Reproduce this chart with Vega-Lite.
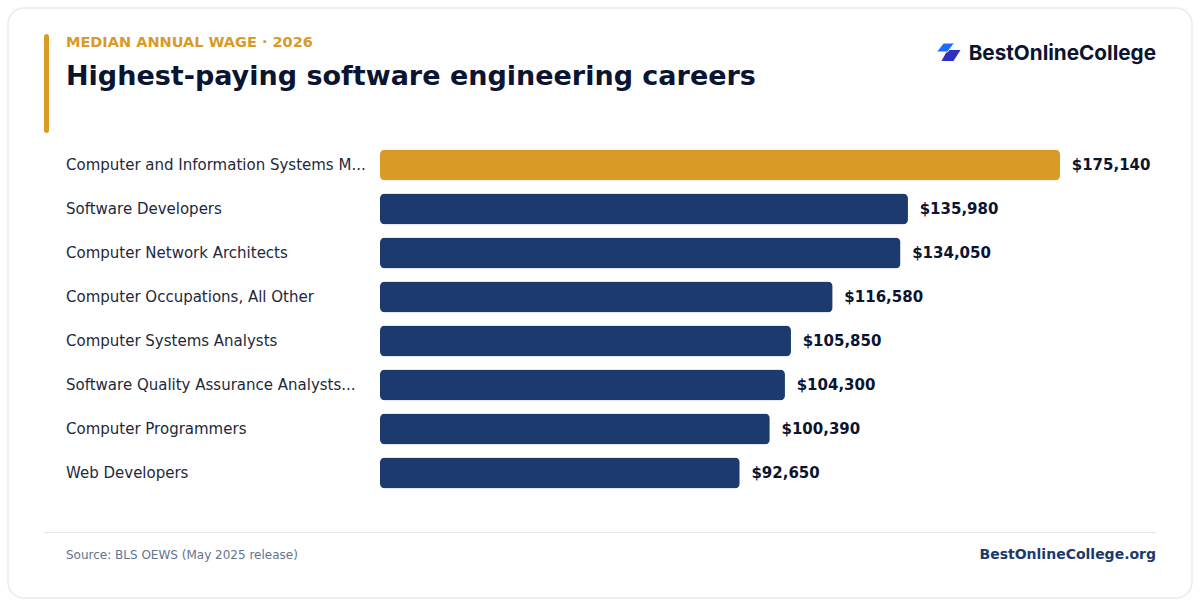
{
  "$schema": "https://vega.github.io/schema/vega-lite/v6.json",
  "description": "Highest-paying software engineering careers by median annual wage.",
  "width": 1184,
  "height": 590,
  "padding": 8,
  "autosize": "none",
  "background": "#ffffff",
  "config": {
    "font": "DejaVu Sans",
    "view": {"stroke": "#e6eaf2", "strokeWidth": 1.5, "cornerRadius": 16, "fill": "#ffffff"}
  },
  "title": {
    "text": "MEDIAN ANNUAL WAGE · 2026",
    "subtitle": "Highest-paying software engineering careers",
    "anchor": "start",
    "frame": "group",
    "orient": "top",
    "dx": 58,
    "offset": -83,
    "fontSize": 14.5,
    "fontWeight": "bold",
    "color": "#d99a26",
    "subtitleFontSize": 27,
    "subtitleFontWeight": "bold",
    "subtitleColor": "#0b1430",
    "subtitlePadding": 14,
    "subtitleFont": "DejaVu Sans",
    "font": "DejaVu Sans"
  },
  "datasets": {
    "wages": [
      {"career": "Computer and Information Systems M...", "wage": 175140, "top": "yes"},
      {"career": "Software Developers", "wage": 135980, "top": "no"},
      {"career": "Computer Network Architects", "wage": 134050, "top": "no"},
      {"career": "Computer Occupations, All Other", "wage": 116580, "top": "no"},
      {"career": "Computer Systems Analysts", "wage": 105850, "top": "no"},
      {"career": "Software Quality Assurance Analysts...", "wage": 104300, "top": "no"},
      {"career": "Computer Programmers", "wage": 100390, "top": "no"},
      {"career": "Web Developers", "wage": 92650, "top": "no"}
    ]
  },
  "resolve": {
    "scale": {"x": "independent", "y": "independent"},
    "axis": {"x": "independent", "y": "independent"}
  },
  "layer": [
    {
      "data": {"name": "wages"},
      "encoding": {
        "y": {
          "field": "career",
          "type": "nominal",
          "sort": null,
          "scale": {"range": [135, 487], "paddingInner": 0.3, "paddingOuter": 0.15},
          "axis": {
            "title": null,
            "domain": false,
            "ticks": false,
            "labelAlign": "left",
            "labelPadding": -57.5,
            "labelFontSize": 15,
            "labelColor": "#1e293b",
            "labelLimit": 320
          }
        },
        "x": {
          "field": "wage",
          "type": "quantitative",
          "scale": {"domain": [0, 175140], "range": [372, 1052], "nice": false},
          "axis": {
            "title": "Source: BLS OEWS (May 2025 release)",
            "titleFontSize": 12,
            "titleFontWeight": "normal",
            "titleColor": "#64748b",
            "titleAnchor": "start",
            "titleAlign": "left",
            "titleBaseline": "middle",
            "titleX": 57.5,
            "titleY": -44,
            "labels": false,
            "ticks": false,
            "domain": false,
            "grid": false
          }
        }
      },
      "layer": [
        {
          "mark": {"type": "bar", "cornerRadius": 5},
          "encoding": {
            "color": {
              "field": "top",
              "type": "nominal",
              "scale": {"domain": ["yes", "no"], "range": ["#d99a26", "#1c3a6e"]},
              "legend": null
            }
          }
        },
        {
          "mark": {"type": "text", "align": "left", "baseline": "middle", "dx": 11.7, "fontSize": 15, "fontWeight": "bold", "color": "#0b1430"},
          "encoding": {
            "text": {"field": "wage", "type": "quantitative", "format": "$,.0f"}
          }
        }
      ]
    },
    {
      "data": {"values": [{"item": "furniture"}]},
      "encoding": {
        "x": {"datum": 0, "type": "quantitative", "scale": {"domain": [8, 1192], "range": [0, 1184]}, "axis": null},
        "y": {"datum": 0, "type": "quantitative", "scale": {"domain": [8, 598], "range": [0, 590]}, "axis": null}
      },
      "layer": [
        {
          "mark": {"type": "rect", "color": "#d99a26", "cornerRadius": 2.5},
          "encoding": {
            "x": {"datum": 44, "type": "quantitative"},
            "x2": {"datum": 49},
            "y": {"datum": 34, "type": "quantitative"},
            "y2": {"datum": 133}
          }
        },
        {
          "mark": {"type": "rule", "color": "#e2e8f0", "strokeWidth": 1},
          "encoding": {
            "x": {"datum": 44, "type": "quantitative"},
            "x2": {"datum": 1156},
            "y": {"datum": 532.5, "type": "quantitative"}
          }
        },
        {
          "mark": {"type": "text", "text": "BestOnlineCollege.org", "align": "right", "baseline": "middle", "fontSize": 14, "fontWeight": "bold", "color": "#1c3a6e"},
          "encoding": {
            "x": {"datum": 1156, "type": "quantitative"},
            "y": {"datum": 555, "type": "quantitative"}
          }
        },
        {
          "mark": {"type": "text", "text": "BestOnlineCollege", "align": "right", "baseline": "middle", "font": "Inter", "fontSize": 20.7, "fontWeight": 700, "color": "#0b1430"},
          "encoding": {
            "x": {"datum": 1156, "type": "quantitative"},
            "y": {"datum": 54, "type": "quantitative"}
          }
        },
        {
          "mark": {"type": "point", "filled": true, "opacity": 1, "size": 400, "color": "#2f2fc4", "shape": "M-0.35,-0.55L0.95,-0.55L0.25,0.55L-0.95,0.55Z"},
          "encoding": {
            "x": {"datum": 951, "type": "quantitative"},
            "y": {"datum": 55.5, "type": "quantitative"}
          }
        },
        {
          "mark": {"type": "point", "filled": true, "opacity": 1, "size": 400, "color": "#1a6bff", "stroke": "#ffffff", "strokeWidth": 1, "shape": "M-0.2,-0.45L0.9,-0.45L0.2,0.45L-0.9,0.45Z"},
          "encoding": {
            "x": {"datum": 945.5, "type": "quantitative"},
            "y": {"datum": 47.5, "type": "quantitative"}
          }
        }
      ]
    }
  ]
}
